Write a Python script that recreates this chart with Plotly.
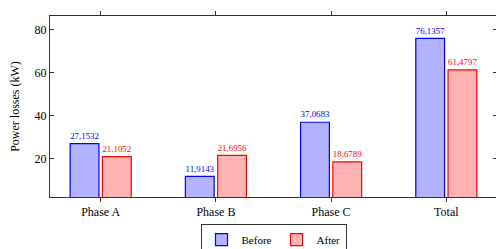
import plotly.graph_objects as go

categories = ["Phase A", "Phase B", "Phase C", "Total"]
before = [27.1532, 11.9143, 37.0683, 76.1357]
after = [21.1052, 21.6956, 18.6789, 61.4797]
yticks = [20, 40, 60, 80]

def fmt(v):
    return f"{v:.4f}".replace(".", ",")

font = "Liberation Serif, Times New Roman, serif"

fig = go.Figure()
fig.add_trace(go.Bar(
    x=categories, y=before, name="Before",
    width=0.25, offset=-0.265,
    marker=dict(color="#b3b3ff", line=dict(color="#0000ff", width=1.2)),
    text=[fmt(v) for v in before], textposition="outside",
    textfont=dict(color="#0000ff", size=10, family=font),
    cliponaxis=False,
))
fig.add_trace(go.Bar(
    x=categories, y=after, name="After",
    width=0.25, offset=0.015,
    marker=dict(color="#ffb3b3", line=dict(color="#ff0000", width=1.2)),
    text=[fmt(v) for v in after], textposition="outside",
    textfont=dict(color="#ff0000", size=10, family=font),
    cliponaxis=False,
))

fig.update_layout(
    width=496, height=241,
    margin=dict(l=42, r=7, t=8, b=52, autoexpand=False),
    barmode="overlay",
    plot_bgcolor="white", paper_bgcolor="white",
    font=dict(family=font, size=12, color="black"),
    showlegend=True,
    legend=dict(orientation="h", x=0.5, xanchor="center", y=-0.15, yanchor="top",
                bordercolor="#333", borderwidth=1, font=dict(size=11, family=font),
                itemwidth=30, tracegroupgap=0, entrywidth=0),
    uniformtext=dict(minsize=8, mode="show"),
)
fig.update_xaxes(
    range=[-0.44, 3.44], showline=True, linecolor="#333", linewidth=1,
    mirror="ticks", ticks="outside", ticklen=4, tickcolor="#333",
    showgrid=False, tickfont=dict(size=12, family=font), automargin=False,
)
fig.update_yaxes(
    range=[2.3, 86.5], tickvals=yticks, showline=True, linecolor="#333", linewidth=1,
    mirror="ticks", ticks="inside", ticklen=4, tickcolor="#333",
    showgrid=False, zeroline=False, tickfont=dict(size=12, family=font), automargin=False,
    title=dict(text="Power losses (kW)", font=dict(size=12, family=font), standoff=16),
)
fig.write_html("out.html")
